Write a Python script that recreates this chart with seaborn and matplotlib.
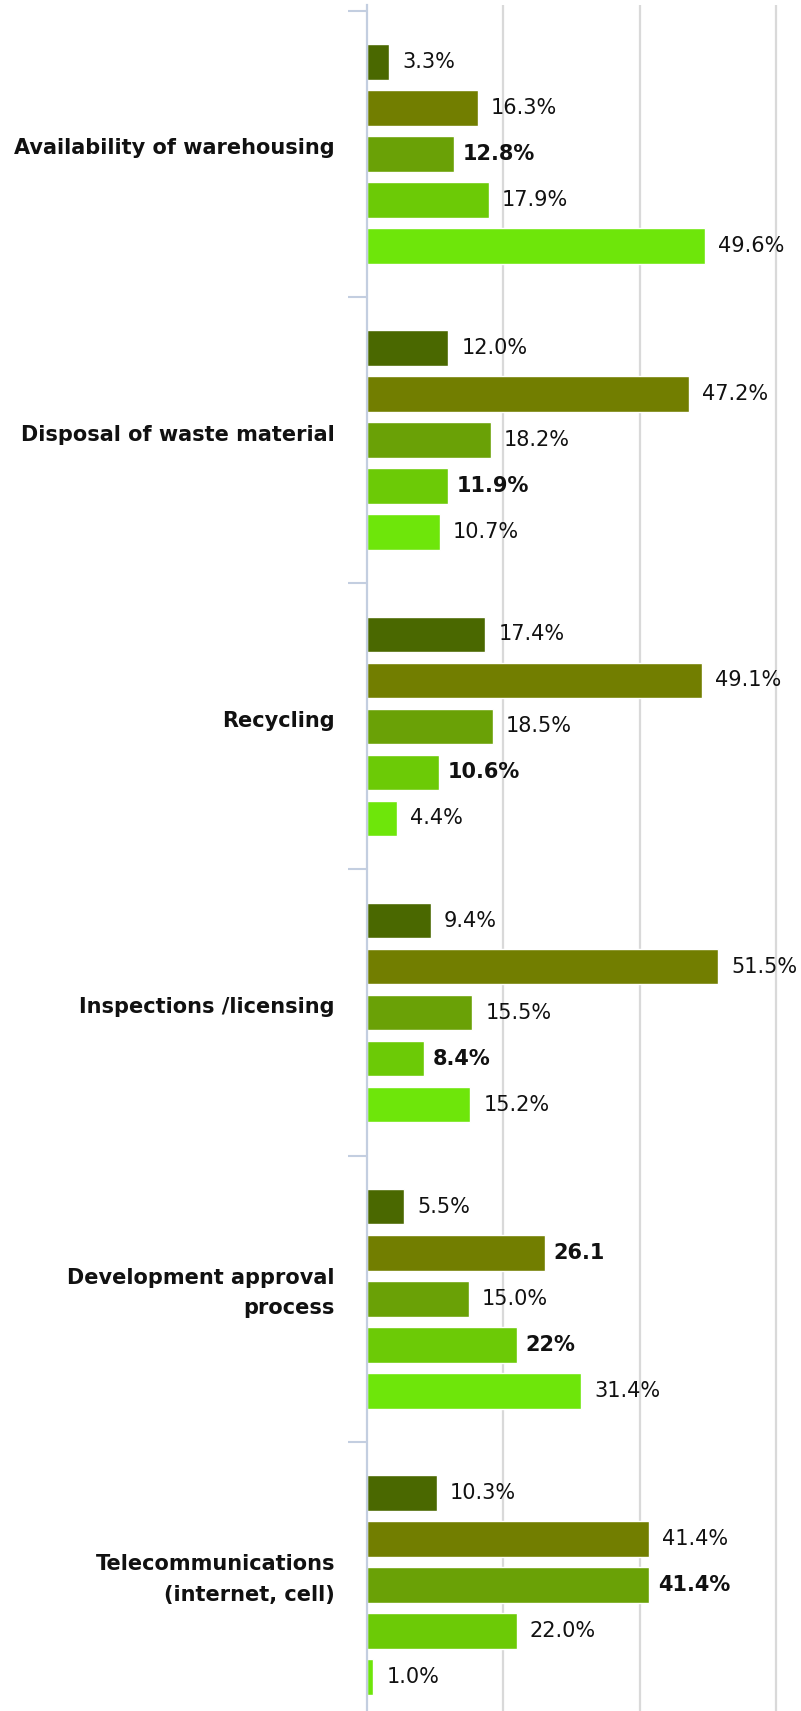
import matplotlib
matplotlib.use("Agg")
import matplotlib.pyplot as plt
import seaborn as sns
import pandas as pd

# Survey categories and the five response groups shown for each
categories = [
    "Availability of warehousing",
    "Disposal of waste material",
    "Recycling",
    "Inspections /licensing",
    "Development approval\nprocess",
    "Telecommunications\n(internet, cell)",
]
groups = ["Group 1", "Group 2", "Group 3", "Group 4", "Group 5"]

# Percent values, one list per category (in group order)
warehousing = [3.3, 16.3, 12.8, 17.9, 49.6]
waste = [12.0, 47.2, 18.2, 11.9, 10.7]
recycling = [17.4, 49.1, 18.5, 10.6, 4.4]
licensing = [9.4, 51.5, 15.5, 8.4, 15.2]
approval = [5.5, 26.1, 15.0, 22.0, 31.4]
telecom = [10.3, 41.4, 41.4, 22.0, 1.0]

# Value labels as printed beside each bar, and which ones are set in bold
label_text = [
    ["3.3%", "16.3%", "12.8%", "17.9%", "49.6%"],
    ["12.0%", "47.2%", "18.2%", "11.9%", "10.7%"],
    ["17.4%", "49.1%", "18.5%", "10.6%", "4.4%"],
    ["9.4%", "51.5%", "15.5%", "8.4%", "15.2%"],
    ["5.5%", "26.1", "15.0%", "22%", "31.4%"],
    ["10.3%", "41.4%", "41.4%", "22.0%", "1.0%"],
]
label_bold = [
    [False, False, True, False, False],
    [False, False, False, True, False],
    [False, False, False, True, False],
    [False, False, False, True, False],
    [False, True, False, True, False],
    [False, False, True, False, False],
]

palette = ["#4a6800", "#727e00", "#6aa106", "#6cca06", "#6ee60a"]

rows = []
for cat, vals in zip(categories, [warehousing, waste, recycling, licensing, approval, telecom]):
    for g, v in zip(groups, vals):
        rows.append({"category": cat, "group": g, "value": v})
df = pd.DataFrame(rows)

sns.set_theme(style="white")
plt.rcParams["font.family"] = ["DejaVu Sans"]

W, H, DPI = 801, 1711, 100
fig = plt.figure(figsize=(W / DPI, H / DPI), dpi=DPI)
ax_left, ax_right = 366.5, 801.0
ax_top, ax_bottom = 5.0, 1711.0
ax = fig.add_axes([ax_left / W, 1 - ax_bottom / H, (ax_right - ax_left) / W, (ax_bottom - ax_top) / H])

sns.barplot(
    data=df, x="value", y="category", hue="group", order=categories,
    hue_order=groups, palette=palette, width=0.804, gap=0.23,
    saturation=1, legend=False, ax=ax, errorbar=None,
)

# Vertical gridlines at 20 / 40 / 60
ax.set_xticks([20, 40, 60])
ax.set_xticklabels([])
ax.tick_params(axis="x", length=0)
ax.xaxis.grid(True, color="#d9d9d9", linewidth=1.6)
ax.set_axisbelow(True)

# Separator ticks at the category boundaries; names are placed as text below
ax.set_yticks([])
ax.set_yticks([i - 0.5 for i in range(len(categories) + 1)], minor=True)
ax.tick_params(axis="y", which="minor", left=True, length=13.7, width=1.5,
               color="#c3cee0")
ax.set_xlabel("")
ax.set_ylabel("")

# View limits set after the ticks so they are not widened
x_max = 60 * (ax_right - ax_left) / (776.0 - ax_left)
ax.set_xlim(0, x_max)
ax.set_ylim(5.44, -0.52)

for s in ["top", "right", "bottom"]:
    ax.spines[s].set_visible(False)
ax.spines["left"].set_color("#c3cee0")
ax.spines["left"].set_linewidth(1.6)

# Category names, right-aligned left of the axis
for i, cat in enumerate(categories):
    ax.annotate(
        cat, (0, i), xycoords=("axes fraction", "data"),
        xytext=(-22.7, 4.0), textcoords="offset points",
        ha="right", va="center", fontsize=15, fontweight="bold",
        color="#111111", linespacing=1.65, multialignment="right",
        annotation_clip=False,
    )

# Bars are drawn hue by hue; attach labels from the same values
for gi, container in enumerate(ax.containers):
    for ci, bar in enumerate(container):
        bold = label_bold[ci][gi]
        yc = bar.get_y() + bar.get_height() / 2
        ax.annotate(
            label_text[ci][gi], (bar.get_width(), yc),
            xytext=(6.5 if bold else 9.5, 0), textcoords="offset points",
            ha="left", va="center", fontsize=15,
            fontweight="bold" if bold else "normal", color="#111111",
            annotation_clip=False,
        )

fig.savefig("out.png", dpi=DPI)
